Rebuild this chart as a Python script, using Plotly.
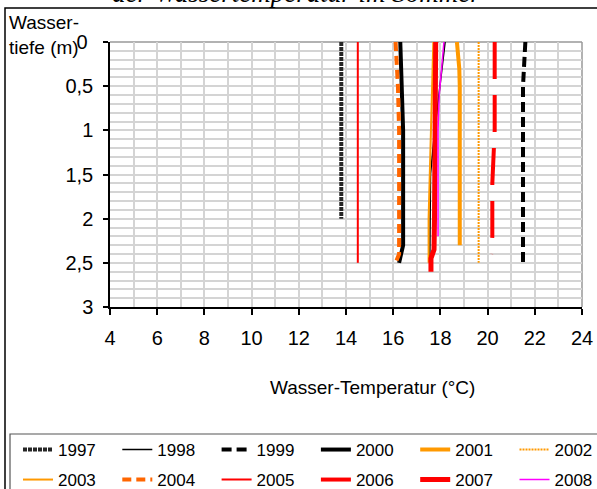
import plotly.graph_objects as go

# ---- data ----
years = ["1997", "1998", "1999", "2000", "2001", "2002",
         "2003", "2004", "2005", "2006", "2007", "2008"]

depth_1997 = [0, 0.5, 1, 1.5, 2.0]
temp_1997 = [13.8, 13.8, 13.8, 13.8, 13.8]
depth_1998 = [0, 0.5, 1, 1.5, 2, 2.5]
temp_1998 = [18.2, 17.98, 17.76, 17.58, 17.55, 17.55]
depth_1999 = [0, 0.5, 1, 1.5, 2, 2.5]
temp_1999 = [21.6, 21.5, 21.5, 21.5, 21.5, 21.5]
depth_2000 = [0, 0.5, 1, 1.5, 2, 2.3, 2.5]
temp_2000 = [16.3, 16.35, 16.42, 16.42, 16.42, 16.42, 16.25]
depth_2001 = [0, 0.3, 0.5, 1, 1.5, 2, 2.3]
temp_2001 = [18.7, 18.8, 18.82, 18.82, 18.82, 18.82, 18.82]
depth_2002 = [0, 0.5, 1, 1.5, 2, 2.5]
temp_2002 = [19.62, 19.62, 19.62, 19.62, 19.62, 19.62]
depth_2003 = [0, 0.5, 1, 1.5, 2, 2.5]
temp_2003 = [17.7, 17.66, 17.6, 17.55, 17.5, 17.5]
depth_2004 = [0, 0.5, 1, 1.5, 2, 2.4, 2.5]
temp_2004 = [16.1, 16.2, 16.25, 16.25, 16.25, 16.25, 16.1]
depth_2005 = [0, 0.5, 1, 1.5, 2, 2.5]
temp_2005 = [14.5, 14.5, 14.5, 14.5, 14.5, 14.5]
depth_2006 = [0, 0.5, 1, 1.6, 2.2, 2.4]
temp_2006 = [20.3, 20.3, 20.3, 20.2, 20.2, 20.15]
depth_2007 = [0, 0.5, 1, 1.5, 2, 2.35, 2.45, 2.6]
temp_2007 = [17.8, 17.8, 17.8, 17.78, 17.75, 17.73, 17.6, 17.6]
depth_2008 = [0, 0.6, 1, 1.5, 2, 2.2]
temp_2008 = [18.15, 17.95, 17.9, 17.9, 17.9, 17.9]

x_tickvals = [4, 6, 8, 10, 12, 14, 16, 18, 20, 22, 24]
y_tickvals = [0, 0.5, 1, 1.5, 2, 2.5, 3]
y_ticktext = ["0\u00a0", "0,5", "1", "1,5", "2", "2,5", "3"]

title_text = "der Wassertemperatur im Sommer"
x_title = "Wasser-Temperatur (°C)"
y_title = "Wasser-<br>tiefe (m)"

depths = [depth_1997, depth_1998, depth_1999, depth_2000, depth_2001, depth_2002,
          depth_2003, depth_2004, depth_2005, depth_2006, depth_2007, depth_2008]
temps = [temp_1997, temp_1998, temp_1999, temp_2000, temp_2001, temp_2002,
         temp_2003, temp_2004, temp_2005, temp_2006, temp_2007, temp_2008]

styles = [
    dict(color="#262626", width=4, dash="4px,1px"),
    dict(color="#000000", width=1.5, dash="solid"),
    dict(color="#000000", width=4, dash="10px,5px"),
    dict(color="#000000", width=4, dash="solid"),
    dict(color="#FF9900", width=4, dash="solid"),
    dict(color="#FF9900", width=2, dash="2px,1px"),
    dict(color="#FF9900", width=2, dash="solid"),
    dict(color="#FF6600", width=4, dash="9px,5px"),
    dict(color="#FF0000", width=2, dash="solid"),
    dict(color="#FF0000", width=4, dash="37px,16px"),
    dict(color="#FF0000", width=5, dash="solid"),
    dict(color="#FF00FF", width=1.5, dash="solid"),
]

FONT = "Liberation Sans, Arial, sans-serif"

W, H = 597, 489
L, R, T, B = 110, 15, 42, 182
pw, ph = W - L - R, H - T - B


def px(x):
    return (x - L) / pw


def py(y):
    return (H - B - y) / ph


fig = go.Figure()
legend_layouts = {}
for i, (name, d, t, st) in enumerate(zip(years, depths, temps, styles)):
    key = "legend" if i == 0 else f"legend{i + 1}"
    fig.add_trace(go.Scatter(x=t, y=d, mode="lines", name=name, line=st,
                             legend=key))
    col, row = i % 6, i // 6
    lx = 18 + col * 99.3
    ly = 450 + row * 30
    legend_layouts[key] = dict(
        xref="container", yref="container",
        x=lx / W, y=1 - ly / H, xanchor="left", yanchor="middle",
        font=dict(family=FONT, size=17, color="#000"),
        bgcolor="rgba(0,0,0,0)", itemwidth=30, borderwidth=0,
    )

fig.update_layout(
    width=W, height=H,
    margin=dict(l=L, r=R, t=T, b=B, pad=0, autoexpand=False),
    paper_bgcolor="white", plot_bgcolor="white",
    font=dict(family=FONT, size=19, color="#000"),
    showlegend=True,
    xaxis=dict(
        range=[4, 24], tickvals=x_tickvals, showgrid=True,
        gridcolor="#d4d4d4", gridwidth=1.5,
        minor=dict(dtick=1, showgrid=True, gridcolor="#d4d4d4", gridwidth=1.5),
        showline=True, linecolor="#000", linewidth=1.5,
        ticks="outside", ticklen=6, tickcolor="#000", tickwidth=1.5,
        zeroline=False, tickfont=dict(size=20), ticklabelstandoff=6,
        automargin=False,
    ),
    yaxis=dict(
        range=[3, 0], tickvals=y_tickvals, ticktext=y_ticktext, showgrid=True,
        gridcolor="#d4d4d4", gridwidth=1.5,
        minor=dict(dtick=0.1, showgrid=True, gridcolor="#d4d4d4", gridwidth=1.5),
        showline=True, linecolor="#000", linewidth=1.5,
        ticks="outside", ticklen=5, tickcolor="#000", tickwidth=1.5,
        zeroline=False, tickfont=dict(size=20), ticklabelstandoff=6,
        automargin=False,
    ),
    shapes=[
        dict(type="line", xref="paper", yref="paper", x0=0, x1=1, y0=1, y1=1,
             line=dict(color="#999", width=1.5), layer="below"),
        dict(type="line", xref="paper", yref="paper", x0=1, x1=1, y0=0, y1=1,
             line=dict(color="#999", width=1.5), layer="below"),
        dict(type="rect", xref="paper", yref="paper",
             x0=px(5), x1=px(620), y0=py(8), y1=py(520),
             line=dict(color="#000", width=1.5)),
        dict(type="rect", xref="paper", yref="paper",
             x0=px(10), x1=px(620), y0=py(434), y1=py(520),
             line=dict(color="#555", width=1.2)),
    ],
    annotations=[
        dict(text=title_text, xref="paper", yref="paper", x=px(296), y=py(-7),
             xanchor="center", yanchor="middle", showarrow=False,
             font=dict(family="Liberation Serif, Times New Roman, serif", size=27,
                       color="#000", style="italic")),
        dict(text=x_title, xref="paper", yref="paper", x=px(372), y=py(387),
             xanchor="center", yanchor="middle", showarrow=False,
             font=dict(family=FONT, size=19, color="#000")),
        dict(text=y_title, xref="paper", yref="paper", x=px(7), y=py(35),
             xanchor="left", yanchor="middle", showarrow=False, align="left",
             font=dict(family=FONT, size=19, color="#000")),
    ],
    **legend_layouts,
)

fig.write_html("out.html")
